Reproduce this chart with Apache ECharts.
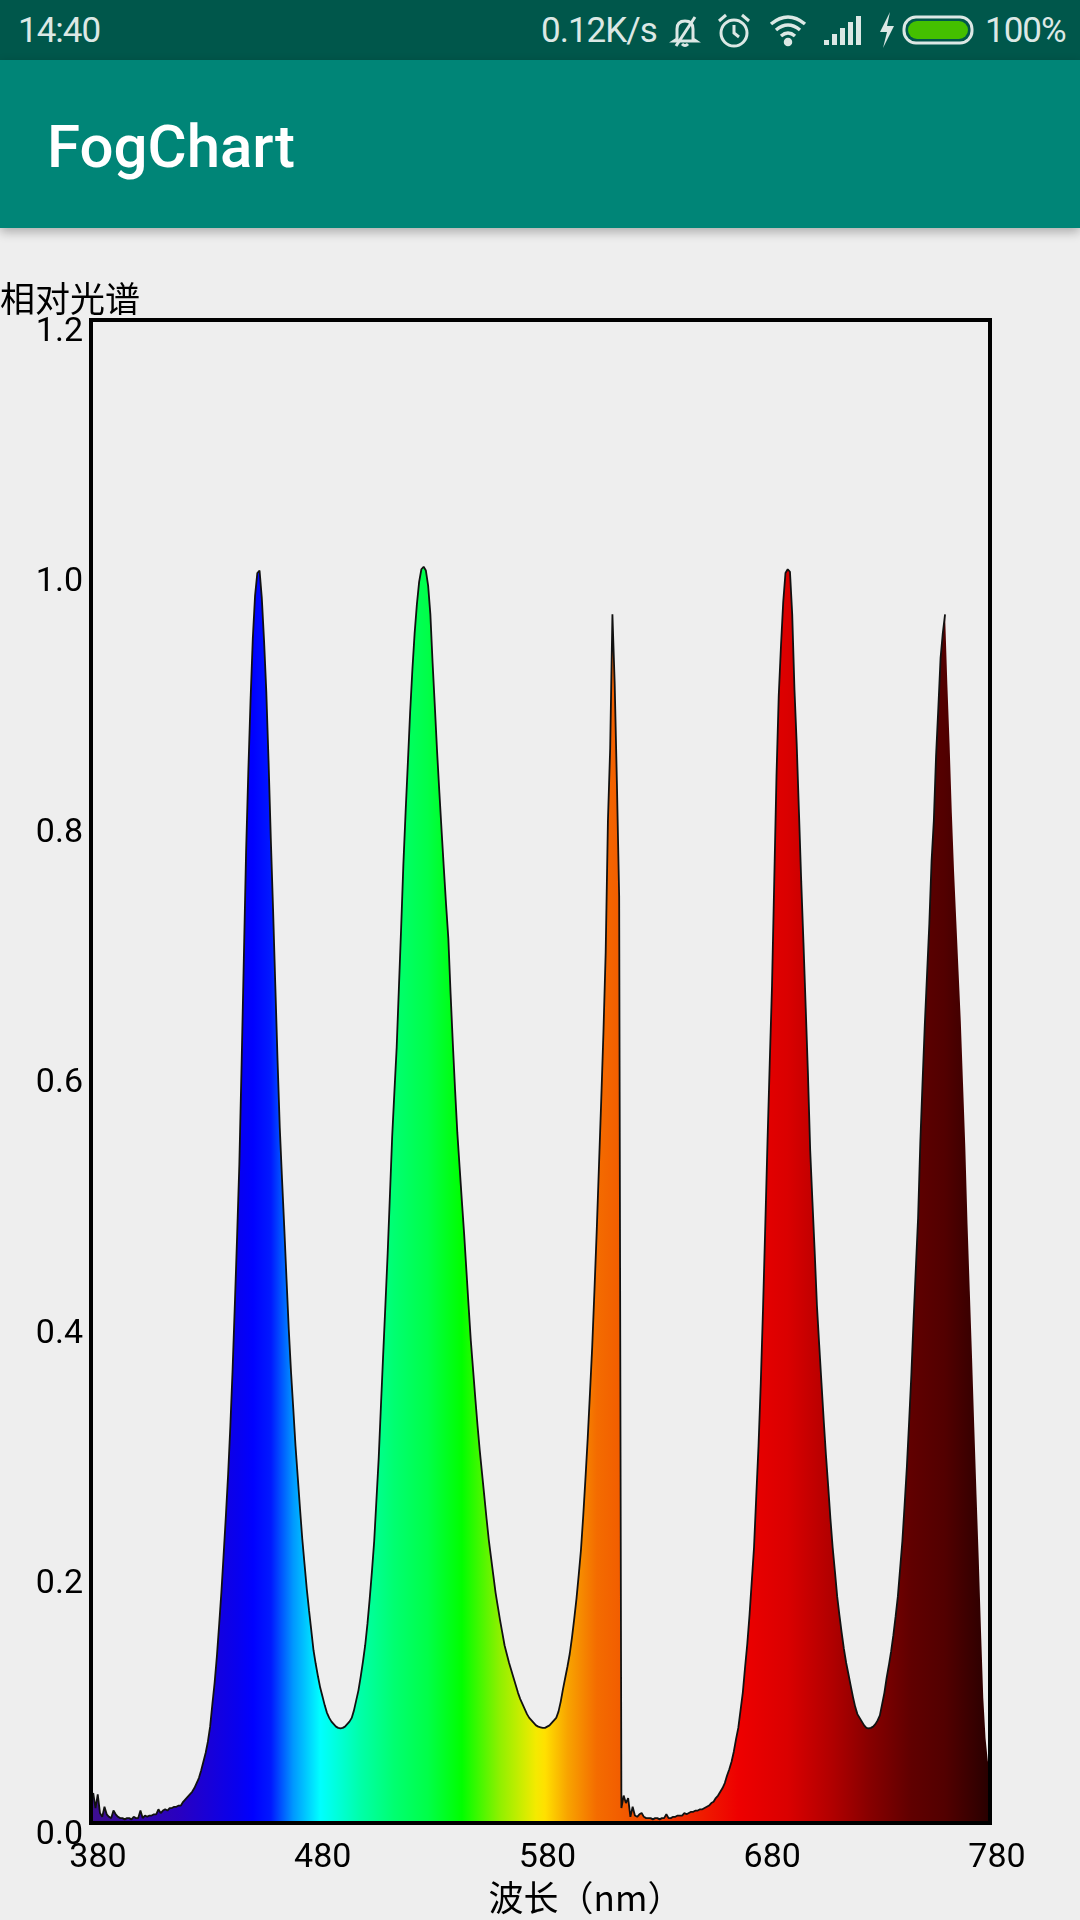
<!DOCTYPE html>
<html>
<head>
<meta charset="utf-8">
<title>FogChart</title>
<script src="https://cdn.jsdelivr.net/npm/echarts@6/dist/echarts.min.js"></script>
<style>
  html, body { margin: 0; padding: 0; }
  body { width: 1080px; height: 1920px; overflow: hidden; background: #eeeeee; position: relative; }
  #chart { position: absolute; left: 0; top: 0; width: 1080px; height: 1920px; }
  #status { position: absolute; left: 0; top: 0; width: 1080px; height: 60px; background: #00574b; color: #dce8e5; font-family: Roboto, sans-serif; }
  #status .t { position: absolute; top: 13px; font-size: 35px; line-height: 35px; letter-spacing: -1px; }
  #status svg { position: absolute; }
  #appbar { position: absolute; left: 0; top: 60px; width: 1080px; height: 168px; background: #008577; box-shadow: 0 4px 10px rgba(0,0,0,0.28); }
  #appbar .title { position: absolute; left: 47px; top: 57px; font: 500 60px/60px Roboto, sans-serif; color: #fff; }
</style>
</head>
<body>
<div id="chart"></div>
<div id="status">
  <div class="t" style="left:18px">14:40</div>
  <div class="t" style="left:541px">0.12K/s</div>
  <!-- bell off -->
  <svg style="left:668px;top:14px" width="34" height="34" viewBox="0 0 34 34" fill="none" stroke="#dce8e5" stroke-width="3">
    <path d="M9 25 L9 15 Q9 7 17 7 Q25 7 25 15 L25 25 L28 27 L6 27 Z"/>
    <path d="M14 30 Q17 33 20 30"/>
    <line x1="27" y1="3" x2="8" y2="32"/>
  </svg>
  <!-- alarm -->
  <svg style="left:716px;top:12px" width="36" height="38" viewBox="0 0 36 38" fill="none" stroke="#dce8e5" stroke-width="3">
    <circle cx="18" cy="21" r="13"/>
    <path d="M18 13 L18 21 L23 25"/>
    <path d="M3 9 L10 3"/><path d="M33 9 L26 3"/>
  </svg>
  <!-- wifi -->
  <svg style="left:768px;top:12px" width="40" height="36" viewBox="0 0 40 36" fill="none" stroke="#dce8e5" stroke-width="3.5">
    <path d="M3 12 Q20 -2 37 12"/>
    <path d="M8 18 Q20 8 32 18"/>
    <path d="M13 24 Q20 18 27 24"/>
    <circle cx="20" cy="30" r="2.5" fill="#dce8e5"/>
  </svg>
  <!-- signal -->
  <svg style="left:823px;top:14px" width="40" height="32" viewBox="0 0 40 32" fill="#dce8e5">
    <rect x="1" y="26" width="5" height="5"/>
    <rect x="9" y="20" width="5" height="11"/>
    <rect x="17" y="14" width="5" height="17"/>
    <rect x="25" y="8" width="5" height="23"/>
    <rect x="33" y="2" width="5" height="29"/>
  </svg>
  <!-- bolt -->
  <svg style="left:878px;top:12px" width="18" height="36" viewBox="0 0 18 36" fill="#dce8e5">
    <polygon points="12,0 2,20 9,20 5,36 16,14 9,14"/>
  </svg>
  <!-- battery -->
  <svg style="left:902px;top:15px" width="74" height="30" viewBox="0 0 74 30">
    <rect x="2" y="2" width="68" height="26" rx="12" ry="12" fill="none" stroke="#dce8e5" stroke-width="3"/>
    <rect x="6" y="6" width="60" height="18" rx="9" ry="9" fill="#44c000"/>
  </svg>
  <div class="t" style="left:985px">100%</div>
</div>
<div id="appbar"><div class="title">FogChart</div></div>

<script>
// relative spectrum, one value per nm starting at 380 nm
const startNm = 380;
const xTicks = [380, 480, 580, 680, 780];
const yTicks = [0, 0.2, 0.4, 0.6, 0.8, 1.0, 1.2];
const intensity = [
  0.020, 0.024, 0.012, 0.023, 0.008, 0.005, 0.013, 0.007, 0.005, 0.004, // 380
  0.010, 0.007, 0.005, 0.004, 0.004, 0.003, 0.004, 0.004, 0.003, 0.005, // 390
  0.004, 0.004, 0.010, 0.004, 0.006, 0.005, 0.006, 0.006, 0.007, 0.007, // 400
  0.011, 0.008, 0.010, 0.011, 0.010, 0.012, 0.012, 0.013, 0.013, 0.014, // 410
  0.014, 0.017, 0.019, 0.021, 0.023, 0.025, 0.028, 0.032, 0.036, 0.042, // 420
  0.049, 0.056, 0.065, 0.077, 0.095, 0.112, 0.133, 0.158, 0.184, 0.214, // 430
  0.245, 0.278, 0.317, 0.362, 0.414, 0.468, 0.526, 0.605, 0.690, 0.775, // 440
  0.840, 0.897, 0.946, 0.980, 0.998, 1.000, 0.978, 0.944, 0.903, 0.848, // 450
  0.786, 0.730, 0.669, 0.609, 0.555, 0.514, 0.475, 0.434, 0.394, 0.360, // 460
  0.331, 0.301, 0.276, 0.251, 0.227, 0.207, 0.187, 0.170, 0.154, 0.138, // 470
  0.127, 0.117, 0.108, 0.101, 0.094, 0.088, 0.084, 0.081, 0.079, 0.077, // 480
  0.076, 0.0756, 0.076, 0.077, 0.079, 0.081, 0.084, 0.090, 0.098, 0.106, // 490
  0.117, 0.129, 0.142, 0.159, 0.179, 0.201, 0.225, 0.258, 0.291, 0.333, // 500
  0.374, 0.414, 0.455, 0.501, 0.548, 0.584, 0.619, 0.667, 0.715, 0.766, // 510
  0.808, 0.847, 0.887, 0.921, 0.950, 0.973, 0.991, 1.001, 1.003, 1.000, // 520
  0.988, 0.965, 0.926, 0.891, 0.855, 0.823, 0.792, 0.762, 0.733, 0.706, // 530
  0.662, 0.622, 0.585, 0.551, 0.524, 0.497, 0.471, 0.442, 0.413, 0.385, // 540
  0.362, 0.339, 0.317, 0.297, 0.279, 0.261, 0.243, 0.226, 0.212, 0.198, // 550
  0.184, 0.173, 0.162, 0.152, 0.142, 0.135, 0.128, 0.122, 0.116, 0.110, // 560
  0.104, 0.099, 0.095, 0.091, 0.087, 0.084, 0.082, 0.080, 0.078, 0.077, // 570
  0.0765, 0.076, 0.076, 0.077, 0.078, 0.080, 0.082, 0.084, 0.089, 0.097, // 580
  0.107, 0.116, 0.125, 0.135, 0.148, 0.163, 0.179, 0.198, 0.218, 0.245, // 590
  0.275, 0.307, 0.343, 0.380, 0.425, 0.472, 0.524, 0.576, 0.631, 0.695, // 600
  0.800, 0.858, 0.965, 0.910, 0.830, 0.740, 0.012, 0.022, 0.016, 0.020, // 610
  0.005, 0.013, 0.006, 0.005, 0.007, 0.008, 0.005, 0.004, 0.004, 0.004, // 620
  0.003, 0.004, 0.004, 0.003, 0.004, 0.004, 0.007, 0.004, 0.004, 0.005, // 630
  0.005, 0.006, 0.006, 0.006, 0.008, 0.007, 0.008, 0.009, 0.009, 0.010, // 640
  0.010, 0.011, 0.011, 0.012, 0.013, 0.014, 0.016, 0.017, 0.020, 0.022, // 650
  0.025, 0.028, 0.032, 0.038, 0.043, 0.049, 0.057, 0.067, 0.076, 0.090, // 660
  0.104, 0.124, 0.143, 0.166, 0.193, 0.220, 0.261, 0.301, 0.351, 0.410, // 670
  0.476, 0.544, 0.607, 0.668, 0.752, 0.836, 0.900, 0.940, 0.975, 0.998, // 680
  1.001, 0.999, 0.965, 0.905, 0.861, 0.807, 0.752, 0.703, 0.651, 0.598, // 690
  0.537, 0.496, 0.456, 0.413, 0.382, 0.352, 0.322, 0.294, 0.269, 0.243, // 700
  0.220, 0.201, 0.181, 0.166, 0.152, 0.139, 0.128, 0.119, 0.110, 0.101, // 710
  0.093, 0.087, 0.084, 0.081, 0.078, 0.076, 0.0756, 0.076, 0.077, 0.079, // 720
  0.082, 0.086, 0.095, 0.104, 0.116, 0.126, 0.137, 0.150, 0.165, 0.181, // 730
  0.203, 0.225, 0.254, 0.284, 0.320, 0.358, 0.402, 0.443, 0.483, 0.544, // 740
  0.592, 0.638, 0.678, 0.718, 0.768, 0.800, 0.852, 0.890, 0.930, 0.950, // 750
  0.965, 0.910, 0.862, 0.807, 0.760, 0.720, 0.680, 0.640, 0.590, 0.540, // 760
  0.478, 0.425, 0.372, 0.316, 0.262, 0.210, 0.153, 0.100, 0.068, 0.050, // 770
  0.040                                                                 // 780
];
// the black outline stops at the last peak (760 nm)
const outlineEndNm = 760;

const spectrum = intensity.map((v, i) => [startNm + i, v]);
const outline = spectrum.filter(p => p[0] <= outlineEndNm);

// wavelength -> colour of the fill
const colourStops = [
  [380, '#3e0f8e'], [420, '#2800c2'], [445, '#0800ee'], [452, '#0000ff'],
  [460, '#0018ff'], [470, '#0098ff'], [482, '#00ffff'], [500, '#00ffa8'],
  [515, '#00ff70'], [530, '#00ff48'], [545, '#00ff00'], [562, '#90f000'],
  [578, '#f4ea00'], [582, '#ffe000'], [592, '#f8a400'], [605, '#f46c00'],
  [615, '#f25e00'], [640, '#f03000'], [668, '#ee0000'], [690, '#da0000'],
  [710, '#b00000'], [726, '#880000'], [745, '#600000'], [760, '#520000'],
  [780, '#280000']
];

const chart = echarts.init(document.getElementById('chart'));
const fill = new echarts.graphic.LinearGradient(0, 0, 1, 0,
  colourStops.map(s => ({ offset: (s[0] - xTicks[0]) / (xTicks[xTicks.length - 1] - xTicks[0]), color: s[1] })));

chart.setOption({
  animation: false,
  textStyle: { fontFamily: 'Roboto, "Noto Sans CJK SC", sans-serif' },
  grid: {
    left: 91, right: 90, top: 320, bottom: 92,
    show: true, borderColor: '#000', borderWidth: 4, z: 10
  },
  graphic: [{
    type: 'text', left: 0, top: 281, z: 20,
    style: { text: '相对光谱', fontSize: 35, fill: '#000', fontFamily: '"Noto Sans CJK SC", sans-serif' }
  }],
  xAxis: {
    type: 'value',
    min: xTicks[0], max: xTicks[xTicks.length - 1], interval: xTicks[1] - xTicks[0],
    name: '波长（nm）',
    nameLocation: 'middle',
    nameGap: 54,
    nameTextStyle: { fontSize: 35, color: '#000', fontFamily: '"Noto Sans CJK SC", sans-serif', padding: [0, 0, 0, 90] },
    axisLine: { show: false },
    axisTick: { show: false },
    splitLine: { show: false },
    axisLabel: { color: '#000', fontSize: 34, margin: 18, padding: [0, 0, 0, 14] }
  },
  yAxis: {
    type: 'value',
    min: yTicks[0], max: yTicks[yTicks.length - 1], interval: yTicks[1] - yTicks[0],
    axisLine: { show: false },
    axisTick: { show: false },
    splitLine: { show: false },
    axisLabel: {
      color: '#000', fontSize: 34, margin: 8,
      verticalAlign: 'top', lineHeight: 24,
      formatter: v => v.toFixed(1)
    }
  },
  series: [
    {
      type: 'line',
      data: spectrum,
      showSymbol: false,
      lineStyle: { width: 0, opacity: 0 },
      areaStyle: { color: fill, opacity: 1 },
      z: 2
    },
    {
      type: 'line',
      data: outline,
      showSymbol: false,
      lineStyle: { color: '#111', width: 1.8 },
      z: 3
    }
  ]
});
</script>
</body>
</html>
